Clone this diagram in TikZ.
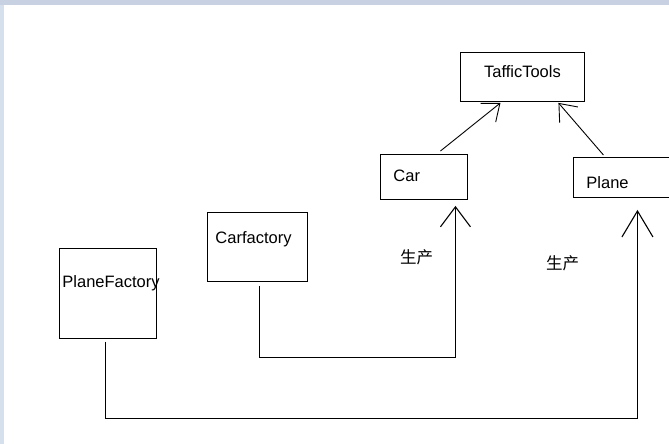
\documentclass[tikz,border=0pt]{standalone}
\usepackage{fontspec}
\setmainfont{Liberation Sans}
\newfontfamily\cjkfont{Noto Sans CJK SC}
\usetikzlibrary{arrows.meta,calc}
\definecolor{ink}{HTML}{000000}
\definecolor{frametop}{HTML}{C8D1E1}
\definecolor{frameside}{HTML}{D6DFEC}
\tikzset{
  every node/.style={font=\fontsize{16.5}{20}\selectfont,text=ink},
  box/.style={draw=ink,line width=0.9pt,inner ysep=0pt,anchor=north west,align=left},
  wire/.style={draw=ink,line width=1.1pt},
  feed/.style={wire,-{Straight Barb[length=20pt,width=30pt]}},
  kind/.style={wire,line width=0.9pt,-{Straight Barb[length=15pt,width=24pt]}},
  tag/.style={font=\cjkfont\fontsize{16.5}{20}\selectfont,inner sep=0pt}
}
\begin{document}
\begin{tikzpicture}[x=1pt,y=-1pt]
  \useasboundingbox (0,0) rectangle (669,444);
  \fill[white] (0,0) rectangle (669,444);
  \fill[frametop] (0,0) rectangle (669,5);
  \fill[frameside] (0,5) rectangle (4,444);

  \node[box,align=center,inner xsep=0pt,text width=124pt,text height=25pt,text depth=24pt] (traffic) at (460,52) {TafficTools};
  \node[box,inner xsep=13pt,text width=61pt,text height=27pt,text depth=18pt] (car) at (380,154) {Car};
  \node[box,inner xsep=13pt,text width=84pt,text height=31pt,text depth=9pt] (plane) at (573,157) {Plane};
  \node[box,inner xsep=8pt,text width=84pt,text height=31pt,text depth=38pt] (carfactory) at (207,212) {Carfactory};
  \node[box,inner xsep=3pt,text width=91pt,text height=39pt,text depth=51pt] (planefactory) at (59,248) {PlaneFactory};

  \node[tag] (makecar) at (416.5,257) {生产};
  \node[tag] (makeplane) at (562.5,263) {生产};

  \draw[kind] ($(car.north)+(16.5,-3)$) -- ($(traffic.south)+(-22,1)$);
  \draw[kind] ($(plane.north)+(-25,-2)$) -- ($(traffic.south)+(36,1)$);

  \draw[feed] ($(carfactory.south)+(2,4)$) -- ++(0,72) -| ($(car.south)+(31.5,6)$);
  \draw[feed,-{Straight Barb[length=26pt,width=31pt]}] ($(planefactory.south)+(-2.5,3)$) -- ++(0,77) -| ($(plane.south)+(9,12)$);
\end{tikzpicture}
\end{document}
